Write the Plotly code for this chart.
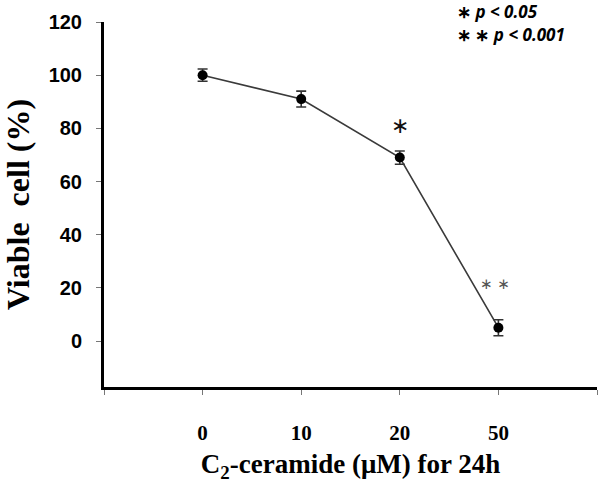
import plotly.graph_objects as go

categories = ["0", "10", "20", "50"]
positions = [1, 2, 3, 4]
viable = [100, 91, 69, 5]
errors = [2.3, 3, 2.5, 3]
y_ticks = [0, 20, 40, 60, 80, 100, 120]

L, R, T, B = 104, 3, 22, 96
W, H = 600, 483

fig = go.Figure()
fig.add_trace(go.Scatter(
    x=positions, y=viable, mode="lines+markers",
    line=dict(color="#3a3a3a", width=1.6),
    marker=dict(color="black", size=10),
    error_y=dict(type="data", array=errors, visible=True, color="#333333", thickness=1.6, width=5),
    showlegend=False,
))

fig.add_annotation(x=3, y=81, text="∗", showarrow=False, xref="x", yref="y",
                   font=dict(family="DejaVu Sans", size=22, color="#111"))
fig.add_annotation(x=3.97, y=21.5, text="∗ ∗", showarrow=False, xref="x", yref="y",
                   font=dict(family="DejaVu Sans", size=15, color="#555"))


def px_to_paper(px, py):
    return (px - L) / (W - L - R), 1 - (py - T) / (H - T - B)


for px, py, txt in [(455, 11, "<b>∗ <i>p < 0.05</i></b>"), (455, 35, "<b>∗ ∗ <i>p < 0.001</i></b>")]:
    xp, yp = px_to_paper(px, py)
    fig.add_annotation(x=xp, y=yp, text=txt, showarrow=False, xref="paper", yref="paper",
                       font=dict(family="Open Sans", size=17, color="black"),
                       xanchor="left", yanchor="middle")

fig.update_layout(
    width=W, height=H,
    margin=dict(l=L, r=R, t=T, b=B, autoexpand=False),
    plot_bgcolor="white", paper_bgcolor="white",
)

fig.update_xaxes(
    automargin=False,
    range=[0, 5], tickvals=positions, ticktext=categories,
    showline=True, linecolor="black", linewidth=3,
    ticks="outside", ticklen=5, tickcolor="#777", tickwidth=1,
    minor=dict(tickvals=[0, 5], ticks="outside", ticklen=5, tickcolor="#777", tickwidth=1, showgrid=False),
    showgrid=False, zeroline=False,
    tickfont=dict(family="Liberation Serif", size=21, color="black", weight="bold"),
    ticklabelstandoff=20,
    title=dict(text="C<sub>2</sub>-ceramide (μM) for 24h",
               font=dict(family="Liberation Serif", size=27, color="black", weight="bold"), standoff=14),
)
fig.update_yaxes(
    automargin=False,
    range=[-17.3, 120], tickvals=y_ticks,
    showline=True, linecolor="black", linewidth=3,
    ticks="outside", ticklen=5, tickcolor="#777", tickwidth=1,
    showgrid=False, zeroline=False,
    tickfont=dict(family="Liberation Sans", size=20, color="black", weight="bold"),
    ticklabelstandoff=10,
    title=dict(text="Viable  cell (%)",
               font=dict(family="Liberation Serif", size=32, color="black", weight="bold"), standoff=12),
)

fig.write_html("out.html", config={"displayModeBar": False})

with open("out.html", "r", encoding="utf-8") as f:
    html = f.read()
html = html.replace("<body>", '<body style="margin:0;padding:0;overflow:hidden">', 1)
with open("out.html", "w", encoding="utf-8") as f:
    f.write(html)
